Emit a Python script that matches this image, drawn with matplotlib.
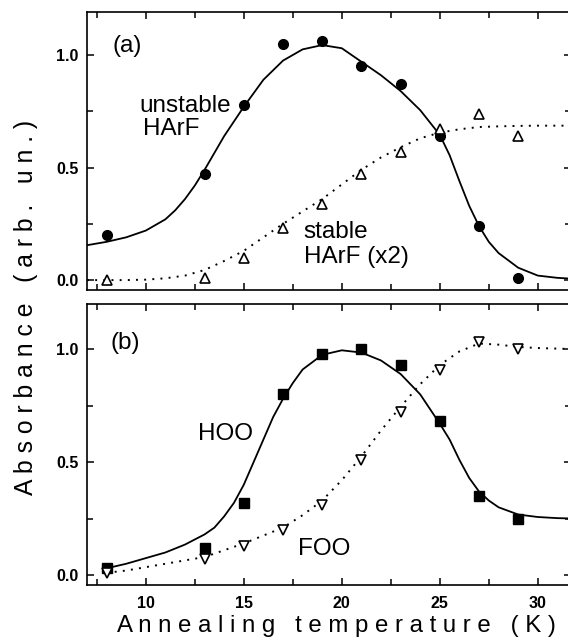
import matplotlib
matplotlib.use("Agg")
import matplotlib.pyplot as plt
from matplotlib.ticker import MultipleLocator

plt.rcParams['font.family'] = ['Liberation Sans', 'DejaVu Sans']

# ---- data: panel (a) ----
temps = [8, 13, 15, 17, 19, 21, 23, 25, 27, 29]
unstable_harf = [0.20, 0.47, 0.78, 1.05, 1.06, 0.95, 0.87, 0.64, 0.24, 0.01]
stable_harf_x2 = [0.00, 0.01, 0.10, 0.23, 0.34, 0.47, 0.57, 0.67, 0.74, 0.64]

# fit curves
fit_a_unstable_x = [7, 8, 9, 10, 11, 11.5, 12, 12.5, 13, 13.5, 14, 15, 16, 17, 18, 19, 20, 21,
                    22, 23, 24, 25, 25.5, 26, 26.5, 27, 27.5, 28, 29, 30, 31, 32]
fit_a_unstable_y = [0.155, 0.17, 0.19, 0.22, 0.27, 0.31, 0.36, 0.42, 0.49, 0.565, 0.64, 0.77,
                    0.89, 0.975, 1.025, 1.044, 1.03, 0.97, 0.91, 0.84, 0.755, 0.645, 0.555,
                    0.44, 0.33, 0.24, 0.17, 0.12, 0.055, 0.02, 0.01, 0.005]
fit_a_stable_x = [7, 8, 9, 10, 11, 12, 13, 14, 15, 16, 17, 18, 19, 20, 21, 22, 23, 24, 25, 26,
                  27, 28, 29, 30, 32]
fit_a_stable_y = [0.0, 0.0, 0.0, 0.002, 0.008, 0.02, 0.045, 0.085, 0.13, 0.19, 0.25, 0.305,
                  0.36, 0.425, 0.49, 0.545, 0.59, 0.63, 0.655, 0.67, 0.68, 0.683, 0.685, 0.686,
                  0.686]

# ---- data: panel (b) ----
hoo = [0.03, 0.12, 0.32, 0.80, 0.98, 1.00, 0.93, 0.68, 0.35, 0.25]
foo = [0.01, 0.07, 0.13, 0.20, 0.31, 0.51, 0.72, 0.91, 1.03, 1.00]

fit_b_hoo_x = [8, 9, 10, 11, 12, 13, 13.5, 14, 14.5, 15, 15.5, 16, 16.5, 17, 17.5, 18, 19, 20,
               21, 22, 23, 24, 25, 25.5, 26, 26.5, 27, 27.5, 28, 29, 30, 31, 32]
fit_b_hoo_y = [0.03, 0.05, 0.075, 0.10, 0.135, 0.18, 0.21, 0.26, 0.32, 0.40, 0.50, 0.60, 0.70,
               0.78, 0.85, 0.91, 0.975, 0.995, 0.985, 0.95, 0.89, 0.80, 0.67, 0.60, 0.51, 0.43,
               0.37, 0.33, 0.30, 0.268, 0.257, 0.252, 0.25]
fit_b_foo_x = [8, 9, 10, 11, 12, 13, 14, 15, 16, 17, 18, 19, 20, 21, 22, 23, 24, 25, 26, 27,
               28, 29, 30, 32]
fit_b_foo_y = [0.01, 0.02, 0.035, 0.05, 0.065, 0.08, 0.11, 0.14, 0.175, 0.21, 0.265, 0.33,
               0.42, 0.525, 0.64, 0.745, 0.845, 0.93, 0.99, 1.025, 1.02, 1.01, 1.005, 1.0]

W, H = 568, 644
fig = plt.figure(figsize=(W / 100, H / 100), dpi=100)

def frac_axes(l, t, r, b):
    return fig.add_axes([l / W, 1 - b / H, (r - l) / W, (b - t) / H])

ax1 = frac_axes(87, 12, 571, 290)
ax2 = frac_axes(87, 304, 571, 585)

x_right = 7 + (571 - 87) / 19.6

dot = (0, (1, 3.2))
for ax in (ax1, ax2):
    ax.set_xlim(7, x_right)
    ax.xaxis.set_major_locator(MultipleLocator(5))
    ax.xaxis.set_minor_locator(MultipleLocator(2.5))
    ax.yaxis.set_major_locator(MultipleLocator(0.5))
    ax.yaxis.set_minor_locator(MultipleLocator(0.25))
    ax.tick_params(which='both', direction='in', top=True, right=True, width=1.1)
    ax.tick_params(which='major', length=5)
    ax.tick_params(which='minor', length=4)
    ax.tick_params(axis='y', pad=6)
    ax.tick_params(axis='x', pad=8)
    for s in ax.spines.values():
        s.set_linewidth(1.2)
    for lab in ax.get_xticklabels() + ax.get_yticklabels():
        lab.set_fontsize(11.5)
        lab.set_fontweight('bold')

ax1.set_ylim(-0.044, 1.191)
ax2.set_ylim(-0.044, 1.2)
ax1.tick_params(axis='x', labelbottom=False)

# panel (a)
ax1.plot(fit_a_unstable_x, fit_a_unstable_y, color='black', lw=1.3)
ax1.plot(fit_a_stable_x, fit_a_stable_y, color='black', lw=1.4, linestyle=dot)
ax1.plot(temps, unstable_harf, 'o', color='black', markersize=7, linestyle='none')
ax1.plot(temps, stable_harf_x2, '^', markerfacecolor='white', markeredgecolor='black',
         markeredgewidth=1.2, markersize=7.8, linestyle='none')
fs = 17.5
ax1.text(8.32, 1.042, '(a)', fontsize=fs, ha='left', va='center')
ax1.text(9.65, 0.747, 'unstable', fontsize=fs, ha='left', va='baseline')
ax1.text(9.88, 0.644, 'HArF', fontsize=fs, ha='left', va='baseline')
ax1.text(18.06, 0.187, 'stable', fontsize=fs, ha='left', va='baseline')
ax1.text(18.06, 0.076, 'HArF (x2)', fontsize=fs, ha='left', va='baseline')

# panel (b)
ax2.plot(fit_b_hoo_x, fit_b_hoo_y, color='black', lw=1.3)
ax2.plot(fit_b_foo_x, fit_b_foo_y, color='black', lw=1.4, linestyle=dot)
ax2.plot(temps, hoo, 's', color='black', markersize=6.5, linestyle='none')
ax2.plot(temps, foo, 'v', markerfacecolor='white', markeredgecolor='black',
         markeredgewidth=1.2, markersize=7.8, linestyle='none')
ax2.text(8.21, 1.027, '(b)', fontsize=fs, ha='left', va='center')
ax2.text(12.65, 0.60, 'HOO', fontsize=fs, ha='left', va='baseline')
ax2.text(17.76, 0.089, 'FOO', fontsize=fs, ha='left', va='baseline')

# axis labels (letter-spaced as in the original)
xlabel = 'Annealing temperature (K)'
ylabel = 'Absorbance (arb. un.)'
fig.text(336 / W, 1 - 632 / H, ' '.join(xlabel), fontsize=17.3, ha='center', va='baseline')
fig.text(26 / W, 1 - 307.5 / H, ' '.join(ylabel), fontsize=17.8, ha='center', va='center',
         rotation=90)

fig.savefig('out.png', dpi=100)
